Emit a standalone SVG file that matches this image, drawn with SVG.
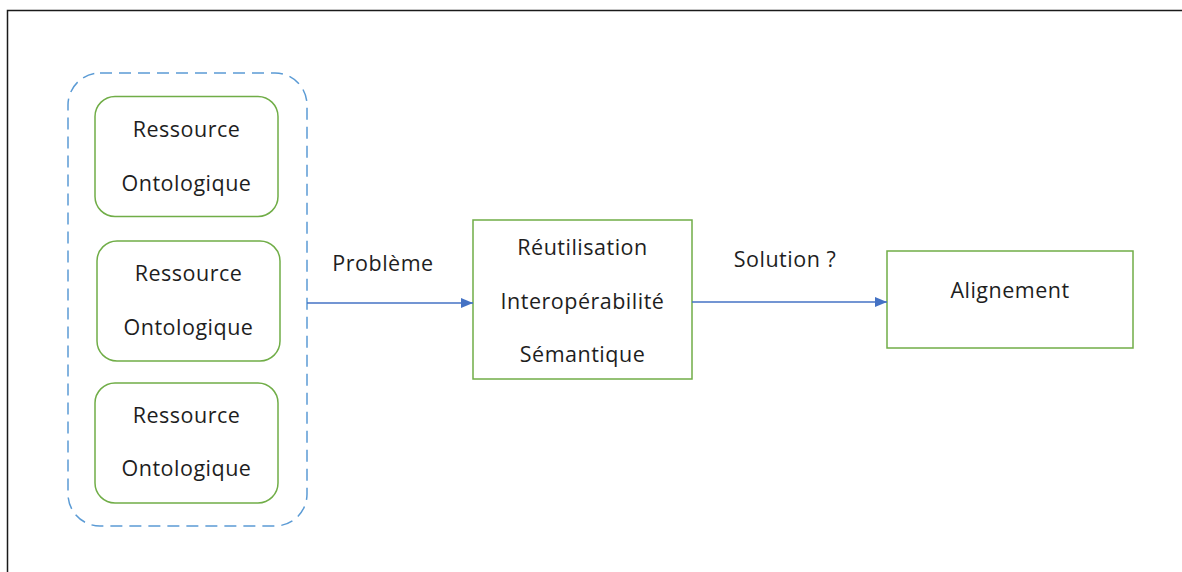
<svg xmlns="http://www.w3.org/2000/svg" width="1182" height="572" viewBox="0 0 1182 572">
  <defs>
    <marker id="arrow" viewBox="0 0 12 10" refX="12" refY="5" markerWidth="12" markerHeight="10" markerUnits="userSpaceOnUse" orient="auto">
      <path d="M0,0 L12,5 L0,10 Z" fill="#4472C4"/>
    </marker>
    <style>
      .frame { fill: #ffffff; stroke: #1a1a1a; stroke-width: 1.5; }
      .group { fill: none; stroke: #5B9BD5; stroke-width: 1.5; stroke-dasharray: 12 7; }
      .node { fill: #ffffff; stroke: #70AD47; stroke-width: 1.5; }
      .label { font-family: "Open Sans", "Liberation Sans", sans-serif; font-size: 21.5px; fill: #1e1e1e; text-anchor: middle; letter-spacing: 0.5px; }
      .edge { fill: none; stroke: #4472C4; stroke-width: 1.5; marker-end: url(#arrow); }
    </style>
  </defs>

  <rect width="1182" height="572" fill="#ffffff"/>
  <rect class="frame" x="7.5" y="10.5" width="1180" height="570"/>

  <!-- dashed container around the ontological resources -->
  <rect id="resources" class="group" x="68" y="73" width="239" height="453" rx="32" ry="32"/>

  <g id="resource-1">
    <rect class="node" x="95" y="96.5" width="183" height="120" rx="20" ry="20"/>
    <text class="label" x="186.5" y="137">Ressource</text>
    <text class="label" x="186.5" y="191">Ontologique</text>
  </g>
  <g id="resource-2">
    <rect class="node" x="97" y="241" width="183" height="120" rx="20" ry="20"/>
    <text class="label" x="188.5" y="281">Ressource</text>
    <text class="label" x="188.5" y="335">Ontologique</text>
  </g>
  <g id="resource-3">
    <rect class="node" x="95" y="383" width="183" height="120" rx="20" ry="20"/>
    <text class="label" x="186.5" y="423">Ressource</text>
    <text class="label" x="186.5" y="476">Ontologique</text>
  </g>

  <g id="problems">
    <rect class="node" x="473" y="220" width="219" height="159"/>
    <text class="label" x="582.5" y="255">Réutilisation</text>
    <text class="label" x="582.5" y="309">Interopérabilité</text>
    <text class="label" x="582.5" y="362">Sémantique</text>
  </g>

  <g id="alignment">
    <rect class="node" x="887" y="251" width="246" height="97"/>
    <text class="label" x="1010" y="298">Alignement</text>
  </g>

  <g id="connectors">
    <line class="edge" x1="307" y1="303" x2="473" y2="303"/>
    <text class="label" x="383" y="271">Problème</text>
    <line class="edge" x1="692" y1="302" x2="887" y2="302"/>
    <text class="label" x="785" y="267">Solution ?</text>
  </g>
</svg>
